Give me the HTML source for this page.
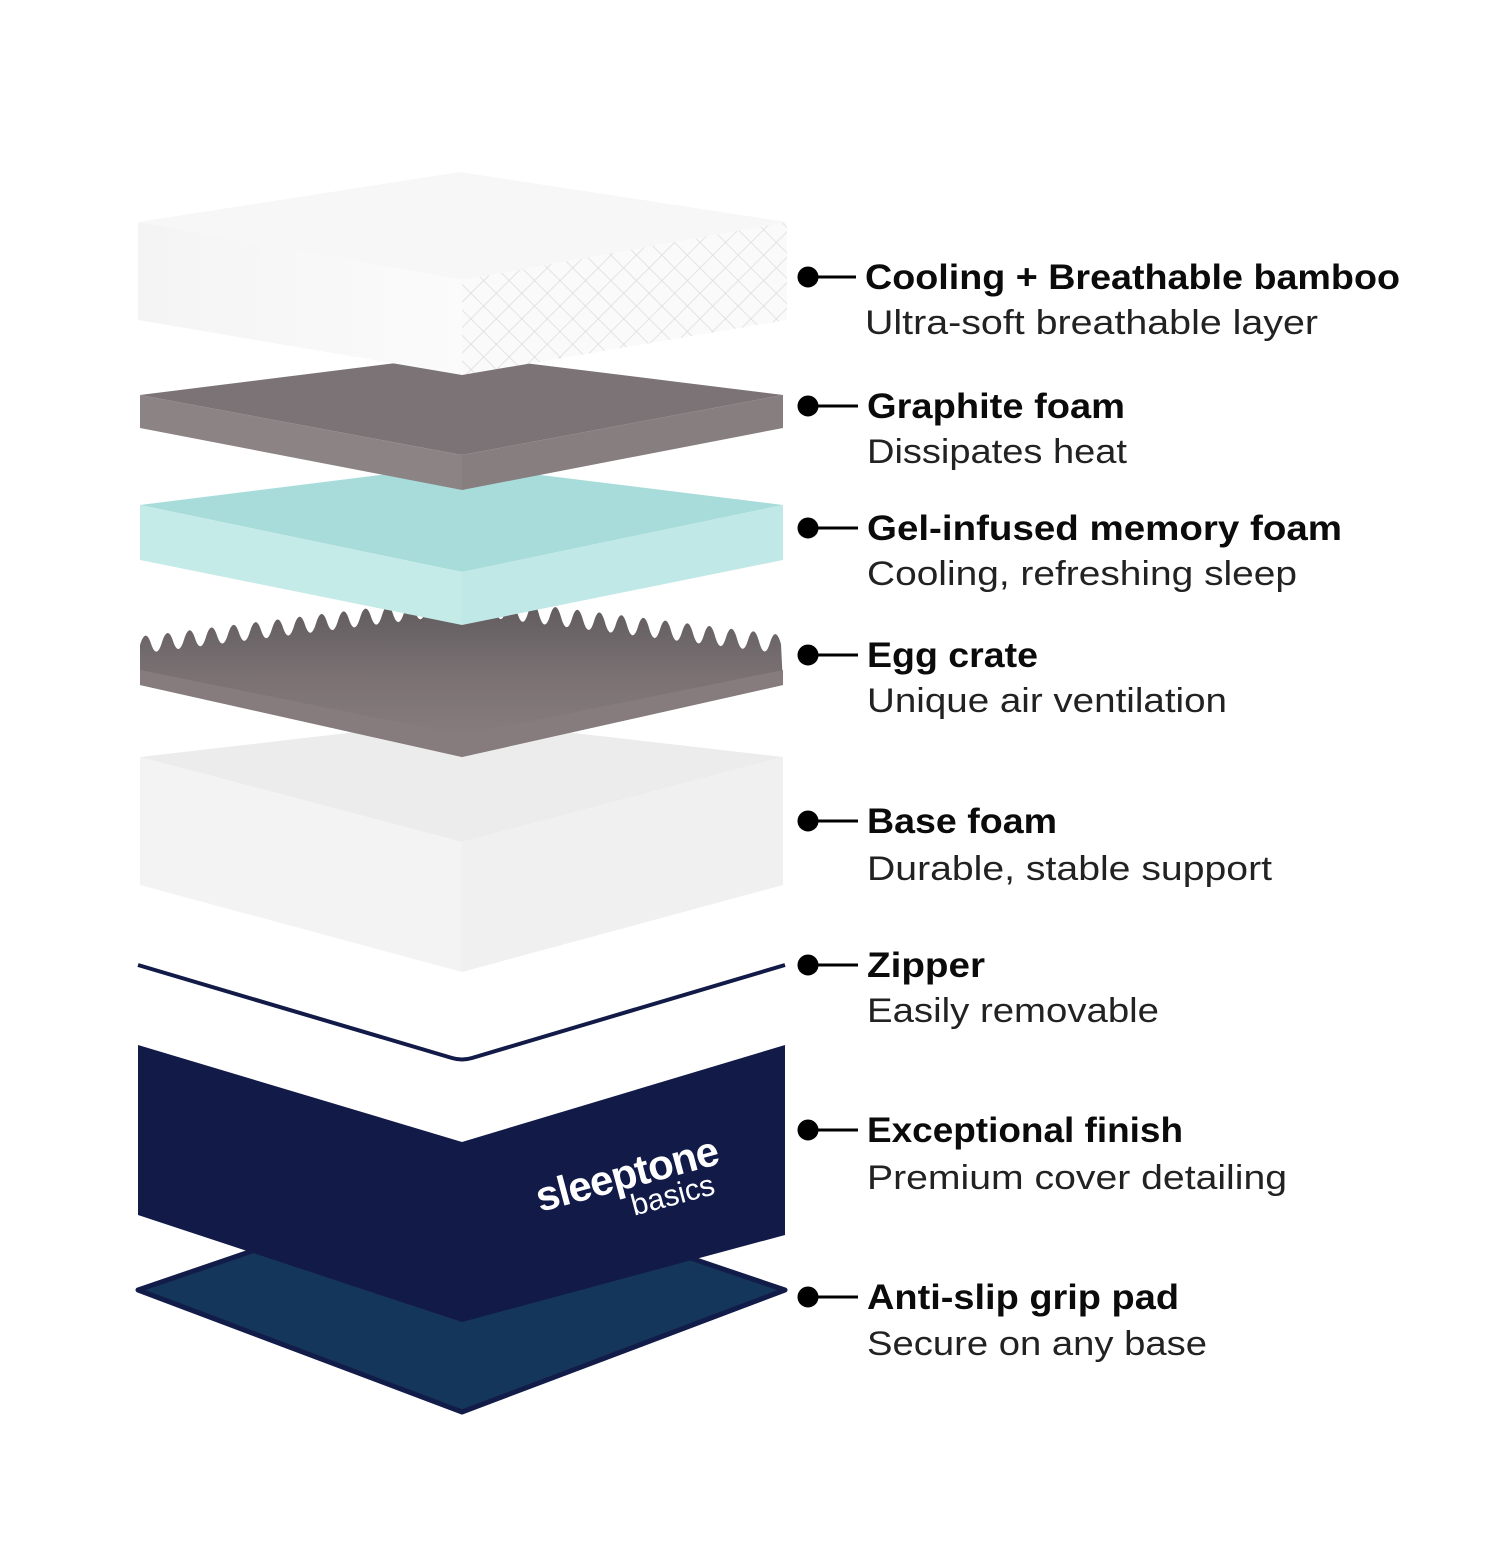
<!DOCTYPE html>
<html><head><meta charset="utf-8"><style>
html,body{margin:0;padding:0;background:#fff;}
svg{display:block}
.t{font-family:"Liberation Sans",sans-serif;font-size:35px;font-weight:bold;fill:#0b0b0b}
.s{font-family:"Liberation Sans",sans-serif;font-size:34px;fill:#222}
</style></head><body>
<svg width="1500" height="1566" viewBox="0 0 1500 1566" xmlns="http://www.w3.org/2000/svg">
<defs>
<linearGradient id="bl" x1="0" y1="0" x2="1" y2="0"><stop offset="0" stop-color="#f4f4f4"/><stop offset="1" stop-color="#fbfbfb"/></linearGradient>
<linearGradient id="eg" x1="0" y1="0" x2="0" y2="1"><stop offset="0" stop-color="#5f5a5c"/><stop offset="0.5" stop-color="#7a7173"/><stop offset="1" stop-color="#8a8082"/></linearGradient>
<pattern id="dia" width="18" height="18" patternUnits="userSpaceOnUse" patternTransform="rotate(45)"><rect width="18" height="18" fill="#fafafa"/><path d="M0 0H18M0 0V18" stroke="#dcdcdc" stroke-width="1.5"/></pattern>
</defs>
<polygon points="138,1290 460,1180 785,1290 462,1412" fill="#15365b" stroke="#121c48" stroke-width="5" stroke-linejoin="round"/>
<polygon points="138,1045 462,1142 785,1045 785,1235 462,1322 138,1215" fill="#121a48"/>
<g transform="translate(540,1212) rotate(-15)" fill="#fff" font-family="'Liberation Sans',sans-serif">
<text x="0" y="0" font-size="42" font-weight="bold" letter-spacing="-1">sleeptone</text>
<text x="90" y="28" font-size="30">basics</text>
</g>
<path d="M138,965 L452,1058 Q462,1061 472,1058 L785,965" fill="none" stroke="#121a48" stroke-width="4"/>
<polygon points="140,757 460,720 783,757 462,842" fill="#ececec"/>
<polygon points="140,757 462,842 462,972 140,885" fill="#f3f3f3"/>
<polygon points="462,842 783,757 783,885 462,972" fill="#f0f0f0"/>
<path d="M140,645 q5.5,-18 11,-1.35 t11,-1.35 t11,-1.35 t11,-1.35 t11,-1.35 t11,-1.35 t11,-1.35 t11,-1.35 t11,-1.35 t11,-1.35 t11,-1.35 t11,-1.35 t11,-1.35 t11,-1.35 t11,-1.35 t11,-1.35 t11,-1.35 t11,-1.35 t11,-1.35 t11,-1.35 t11,-1.35 t11,-1.35 t11,-1.35 t11,-1.35 t11,-1.35 t11,-1.35 t11,-1.35 t11,-1.35 t11,-1.35 L462,605 q5.5,-18 11,1.35 t11,1.35 t11,1.35 t11,1.35 t11,1.35 t11,1.35 t11,1.35 t11,1.35 t11,1.35 t11,1.35 t11,1.35 t11,1.35 t11,1.35 t11,1.35 t11,1.35 t11,1.35 t11,1.35 t11,1.35 t11,1.35 t11,1.35 t11,1.35 t11,1.35 t11,1.35 t11,1.35 t11,1.35 t11,1.35 t11,1.35 t11,1.35 t11,1.35 L783,685 L462,757 L140,685 Z" fill="url(#eg)"/>
<polygon points="140,685 462,757 783,685 783,670 462,735 140,670" fill="#867c7e"/>
<polygon points="140,505 460,465 783,505 462,572" fill="#a8dcda"/>
<polygon points="140,505 462,572 462,625 140,560" fill="#c5ebe9"/>
<polygon points="462,572 783,505 783,560 462,625" fill="#bfe8e6"/>
<polygon points="140,395 460,355 783,395 462,455" fill="#7b7375"/>
<polygon points="140,395 462,455 462,490 140,428" fill="#8c8385"/>
<polygon points="462,455 783,395 783,428 462,490" fill="#877e80"/>
<polygon points="138,222 460,172 787,222 462,280" fill="#f7f7f7"/>
<polygon points="138,222 462,280 462,375 138,320" fill="url(#bl)"/>
<polygon points="462,280 787,222 787,320 462,375" fill="url(#dia)"/>
<g fill="#000" stroke="#000">
<circle cx="808" cy="277" r="10"/><line x1="815" y1="277" x2="856" y2="277" stroke-width="3"/>
<circle cx="808" cy="406" r="10"/><line x1="815" y1="406" x2="858" y2="406" stroke-width="3"/>
<circle cx="808" cy="528" r="10"/><line x1="815" y1="528" x2="858" y2="528" stroke-width="3"/>
<circle cx="808" cy="655" r="10"/><line x1="815" y1="655" x2="858" y2="655" stroke-width="3"/>
<circle cx="808" cy="821" r="10"/><line x1="815" y1="821" x2="858" y2="821" stroke-width="3"/>
<circle cx="808" cy="965" r="10"/><line x1="815" y1="965" x2="858" y2="965" stroke-width="3"/>
<circle cx="808" cy="1130" r="10"/><line x1="815" y1="1130" x2="858" y2="1130" stroke-width="3"/>
<circle cx="808" cy="1297" r="10"/><line x1="815" y1="1297" x2="858" y2="1297" stroke-width="3"/>
</g>
<text class="t" x="865" y="289" textLength="535" lengthAdjust="spacingAndGlyphs">Cooling + Breathable bamboo</text>
<text class="s" x="865" y="334" textLength="453" lengthAdjust="spacingAndGlyphs">Ultra-soft breathable layer</text>
<text class="t" x="867" y="418" textLength="258" lengthAdjust="spacingAndGlyphs">Graphite foam</text>
<text class="s" x="867" y="463" textLength="260" lengthAdjust="spacingAndGlyphs">Dissipates heat</text>
<text class="t" x="867" y="540" textLength="475" lengthAdjust="spacingAndGlyphs">Gel-infused memory foam</text>
<text class="s" x="867" y="585" textLength="430" lengthAdjust="spacingAndGlyphs">Cooling, refreshing sleep</text>
<text class="t" x="867" y="667" textLength="171" lengthAdjust="spacingAndGlyphs">Egg crate</text>
<text class="s" x="867" y="712" textLength="360" lengthAdjust="spacingAndGlyphs">Unique air ventilation</text>
<text class="t" x="867" y="833" textLength="190" lengthAdjust="spacingAndGlyphs">Base foam</text>
<text class="s" x="867" y="880" textLength="405" lengthAdjust="spacingAndGlyphs">Durable, stable support</text>
<text class="t" x="867" y="977" textLength="118" lengthAdjust="spacingAndGlyphs">Zipper</text>
<text class="s" x="867" y="1022" textLength="292" lengthAdjust="spacingAndGlyphs">Easily removable</text>
<text class="t" x="867" y="1142" textLength="316" lengthAdjust="spacingAndGlyphs">Exceptional finish</text>
<text class="s" x="867" y="1189" textLength="420" lengthAdjust="spacingAndGlyphs">Premium cover detailing</text>
<text class="t" x="867" y="1309" textLength="312" lengthAdjust="spacingAndGlyphs">Anti-slip grip pad</text>
<text class="s" x="867" y="1355" textLength="340" lengthAdjust="spacingAndGlyphs">Secure on any base</text>
</svg>
</body></html>
